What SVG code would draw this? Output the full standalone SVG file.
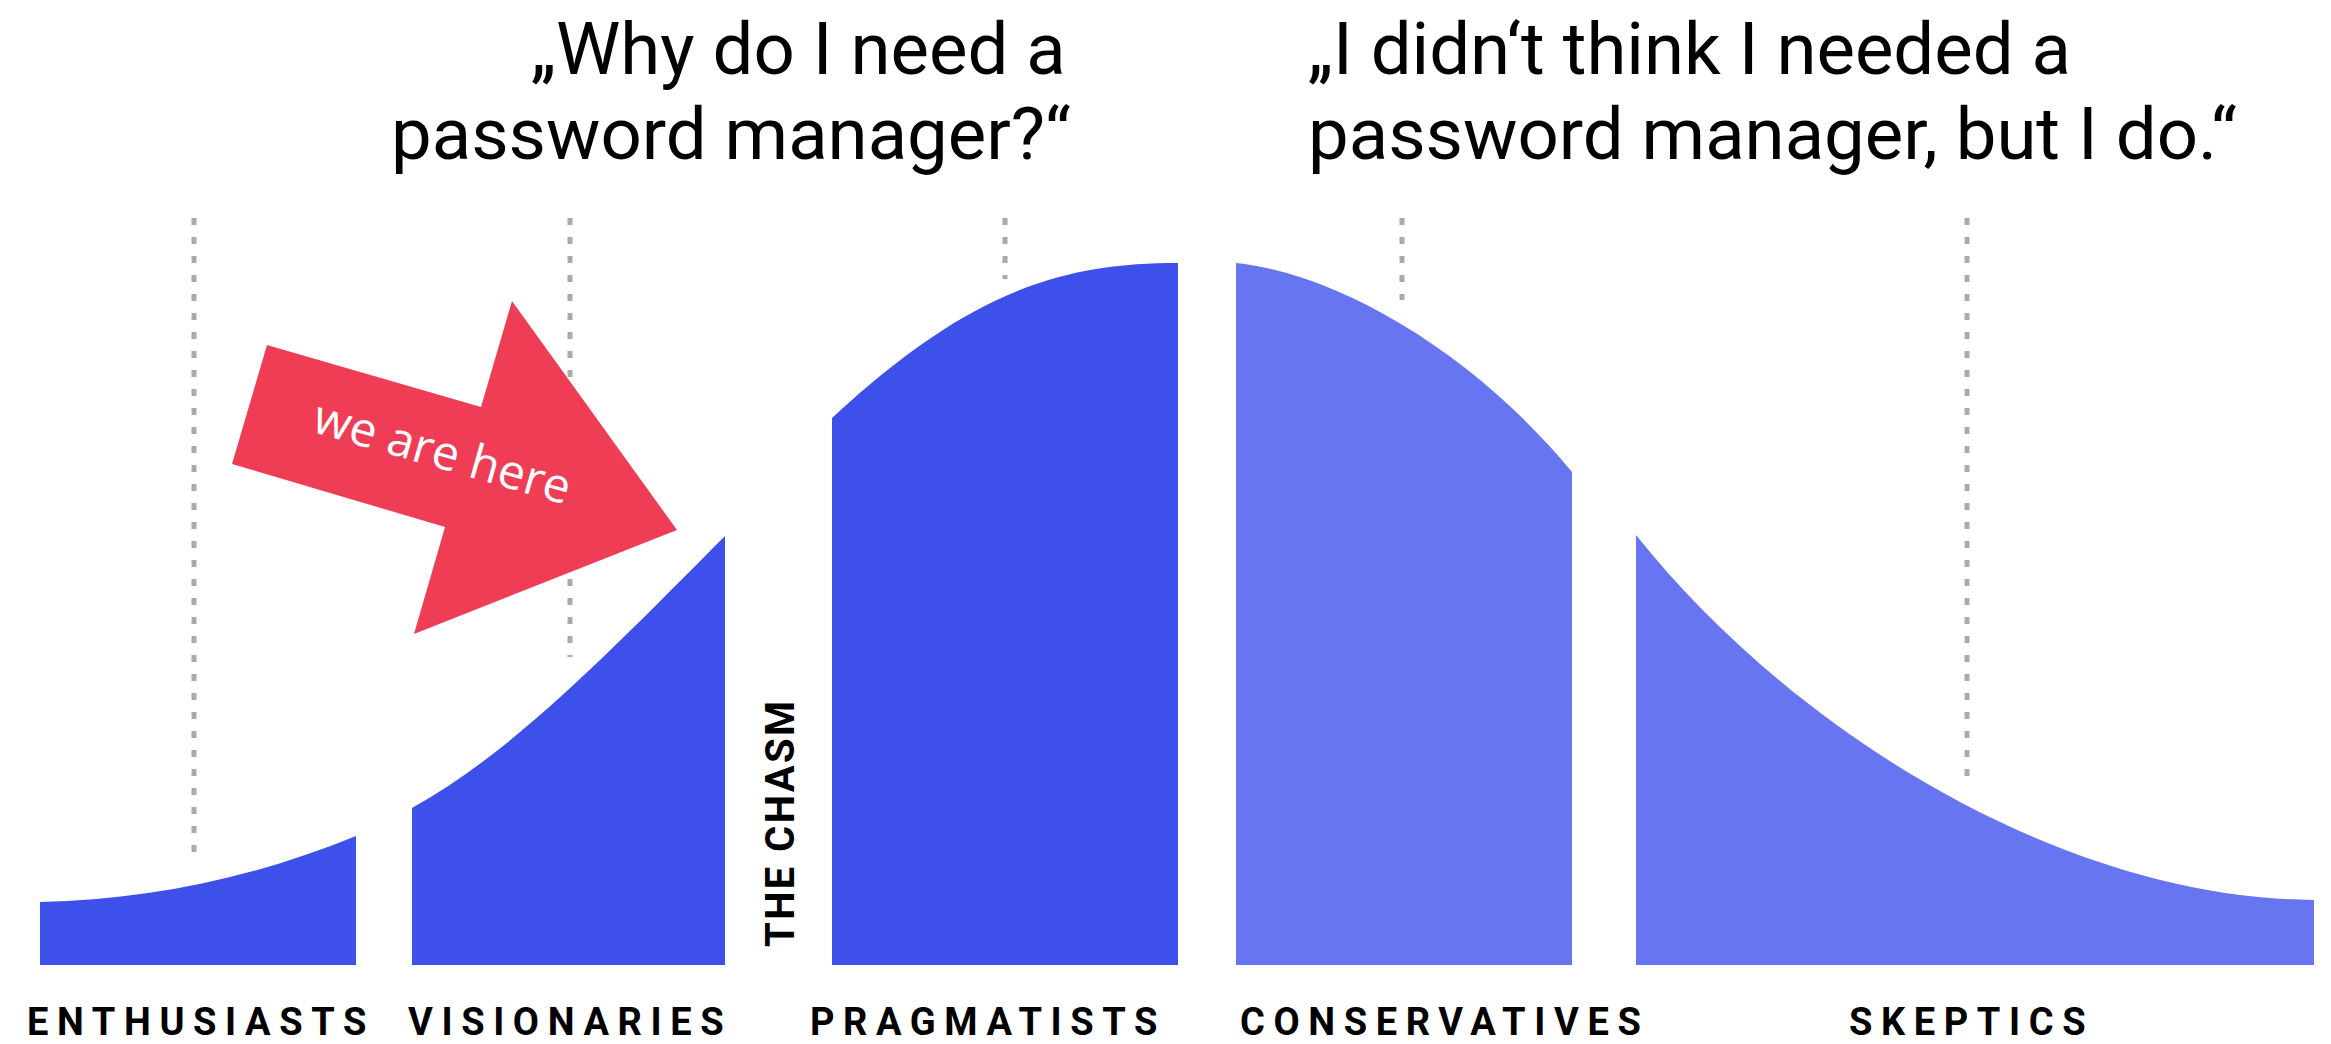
<svg xmlns="http://www.w3.org/2000/svg" width="2331" height="1044" viewBox="0 0 2331 1044">
<style>
.q{font-family:Roboto,"Liberation Sans",sans-serif;font-size:72.5px;fill:#000}
.lbl{font-family:Roboto,"Liberation Sans",sans-serif;font-weight:700;font-size:38px;letter-spacing:8.6px;fill:#000}
.dash{stroke:#aaaaaa;stroke-width:5;stroke-dasharray:7 12;fill:none}
.dark{fill:#3D50EA}
.light{fill:#6776F0}
</style>
<rect width="2331" height="1044" fill="#ffffff"/>
<g id="quotes">
<text class="q" x="531" y="74">„Why do I need a</text>
<text class="q" x="391" y="159">password manager?“</text>
<text class="q" x="1308" y="74">„I didn‘t think I needed a</text>
<text class="q" x="1308" y="159">password manager, but I do.“</text>
</g>
<g id="connectors">
<line class="dash" x1="194" y1="218" x2="194" y2="860"/>
<line class="dash" x1="570" y1="218" x2="570" y2="657"/>
<line class="dash" x1="1005" y1="218" x2="1005" y2="279"/>
<line class="dash" x1="1402" y1="218" x2="1402" y2="300"/>
<line class="dash" x1="1967" y1="218" x2="1967" y2="787"/>
</g>
<g id="enthusiasts">
<path class="dark" d="M40,965 L40,902 C145,900 251,879 356,836 L356,965 Z"/>
<text class="lbl" x="27" y="1035">ENTHUSIASTS</text>
</g>
<g id="visionaries">
<path class="dark" d="M412,965 L412,808 C516,751 621,640 725,536 L725,965 Z"/>
<text class="lbl" x="408" y="1035">VISIONARIES</text>
</g>
<g id="chasm">
<text class="lbl" style="font-size:40px;letter-spacing:2.4px" transform="translate(794,947) rotate(-90)">THE CHASM</text>
</g>
<g id="pragmatists">
<path class="dark" d="M832,965 L832,418 C970,290 1063,263 1178,263 L1178,965 Z"/>
<text class="lbl" x="810" y="1035">PRAGMATISTS</text>
</g>
<g id="conservatives">
<path class="light" d="M1236,965 L1236,263 C1346,275 1480,360 1572,472 L1572,965 Z"/>
<text class="lbl" x="1240" y="1035">CONSERVATIVES</text>
</g>
<g id="skeptics">
<path class="light" d="M1636,965 L1636,535 C1796,735 2064,898 2314,900 L2314,965 Z"/>
<text class="lbl" x="1849" y="1035">SKEPTICS</text>
</g>
<g id="arrow">
<polygon fill="#F03D56" points="267,345 481,407 512,301 677,530 414,634 445,527 232,464"/>
<text transform="translate(438,468) rotate(16)" text-anchor="middle" style="font-family:'Open Sans','Noto Sans',sans-serif;font-size:48px;fill:#ffffff">we are here</text>
</g>
</svg>
